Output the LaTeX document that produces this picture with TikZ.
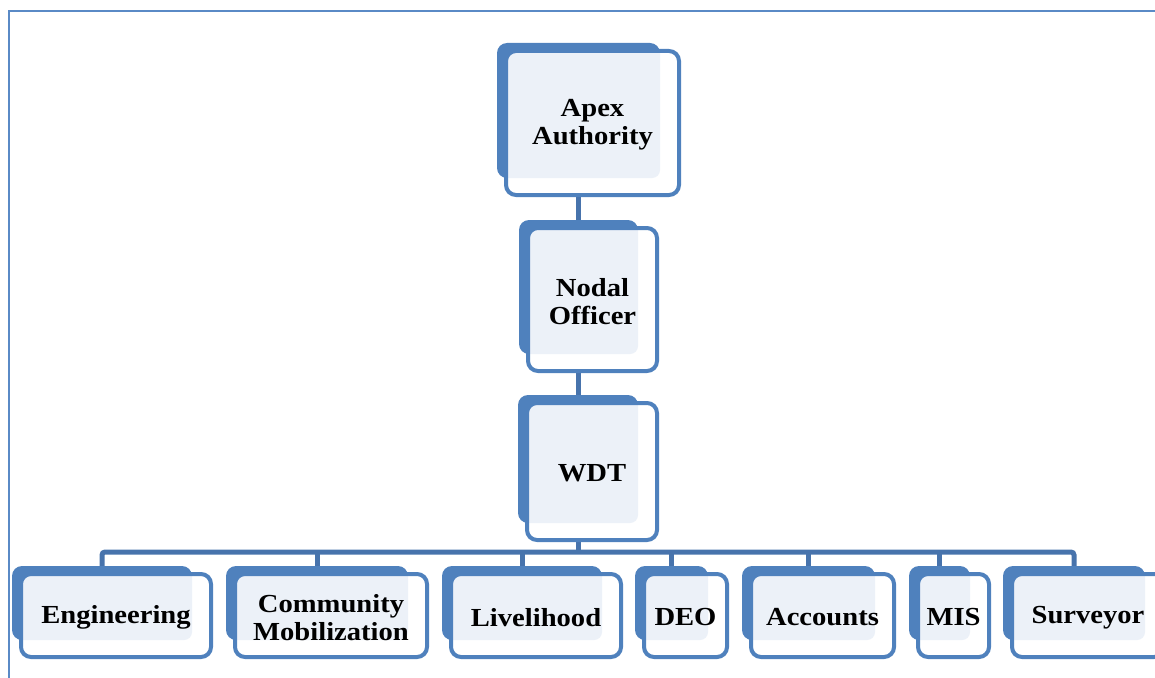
\documentclass[tikz,border=0pt]{standalone}
\usepackage{fontspec}
\newfontfamily\boxfont[FakeStretch=1.1]{Liberation Serif}
\usetikzlibrary{backgrounds}
\definecolor{boxblue}{HTML}{4F81BD}
\definecolor{connblue}{HTML}{4773AC}
\definecolor{lightfill}{HTML}{ECF1F8}
\definecolor{framecol}{HTML}{5A8AC6}
\tikzset{
  backbox/.style={fill=boxblue, rounded corners=10pt, inner sep=0pt, outer sep=0pt},
  frontfill/.style={fill=white, rounded corners=10pt, inner sep=0pt, outer sep=0pt},
  frontbox/.style={draw=boxblue, line width=4pt, rounded corners=10pt, inner sep=0pt, outer sep=0pt},
  boxtext/.style={align=center, inner sep=0pt, font=\boxfont\bfseries\fontsize{26}{28}\selectfont, text=black},
  conn/.style={draw=connblue, line width=5pt},
}
% #1 name, #2 bx1, #3 by1, #4 bx2, #5 by2, #6 text
\newcommand\orgunit[6]{%
  \pgfmathsetmacro\cxb{(#2+#4)/2}%
  \pgfmathsetmacro\cyb{(#3+#5)/2}%
  \pgfmathsetmacro\wb{#4-#2}%
  \pgfmathsetmacro\hb{#5-#3}%
  \pgfmathsetmacro\cxf{(#2+9+#4+19)/2}%
  \pgfmathsetmacro\cyf{(#3+8+#5+17)/2}%
  \pgfmathsetmacro\wf{#4+19-#2-9}%
  \pgfmathsetmacro\hf{#5+17-#3-8}%
  \node[backbox, minimum width=\wb pt, minimum height=\hb pt] (#1b) at (\cxb,\cyb) {};
  \node[frontfill, minimum width=\wf pt, minimum height=\hf pt] (#1w) at (\cxf,\cyf) {};
  \begin{scope}
    \clip[rounded corners=10pt] (#1w.north west) rectangle (#1w.south east);
    \fill[lightfill, rounded corners=8pt] (#1b.north west) rectangle (#1b.south east);
  \end{scope}
  \node[frontbox, minimum width=\wf pt, minimum height=\hf pt] (#1) at (\cxf,\cyf) {};
  \node[boxtext] (#1t) at ([yshift=-2pt]#1.center) {#6};
}
\begin{document}
\begin{tikzpicture}[x=1pt,y=-1pt]
\useasboundingbox (0,0) rectangle (1155,677);
\draw[framecol, line width=2.5pt] (8.75,690) -- (8.75,11.25) -- (1170,11.25);

\orgunit{apex}{497}{43}{660}{178}{Apex\\Authority}
\orgunit{nodal}{519}{220}{638}{354}{Nodal\\Officer}
\orgunit{wdt}{518}{395}{638}{523}{WDT}

\orgunit{eng}{12}{566}{192}{640}{Engineering}
\orgunit{comm}{226}{566}{408}{640}{Community\\Mobilization}
\orgunit{live}{442}{566}{602}{640}{Livelihood}
\orgunit{deo}{635}{566}{708}{640}{DEO}
\orgunit{acc}{742}{566}{875}{640}{Accounts}
\orgunit{mis}{909}{566}{970}{640}{MIS}
\orgunit{surv}{1003}{566}{1145}{640}{Surveyor}

\coordinate (bar) at (578.5,552);
\begin{pgfonlayer}{background}
  \draw[conn] (apexb.south |- apex.south) -- (apexb.south |- nodalb.north);
  \draw[conn] (nodalb.south |- nodal.south) -- (nodalb.south |- wdtb.north);
  \draw[conn] (wdtb.south |- wdt.south) -- (wdtb.south |- bar);
  \draw[conn, rounded corners=3pt] (engb.north) -- (engb.north |- bar) -- (survb.north |- bar) -- (survb.north);
  \foreach \n in {comm,live,deo,acc,mis}
    \draw[conn] (\n b.north) -- (\n b.north |- bar);
\end{pgfonlayer}
\end{tikzpicture}
\end{document}
